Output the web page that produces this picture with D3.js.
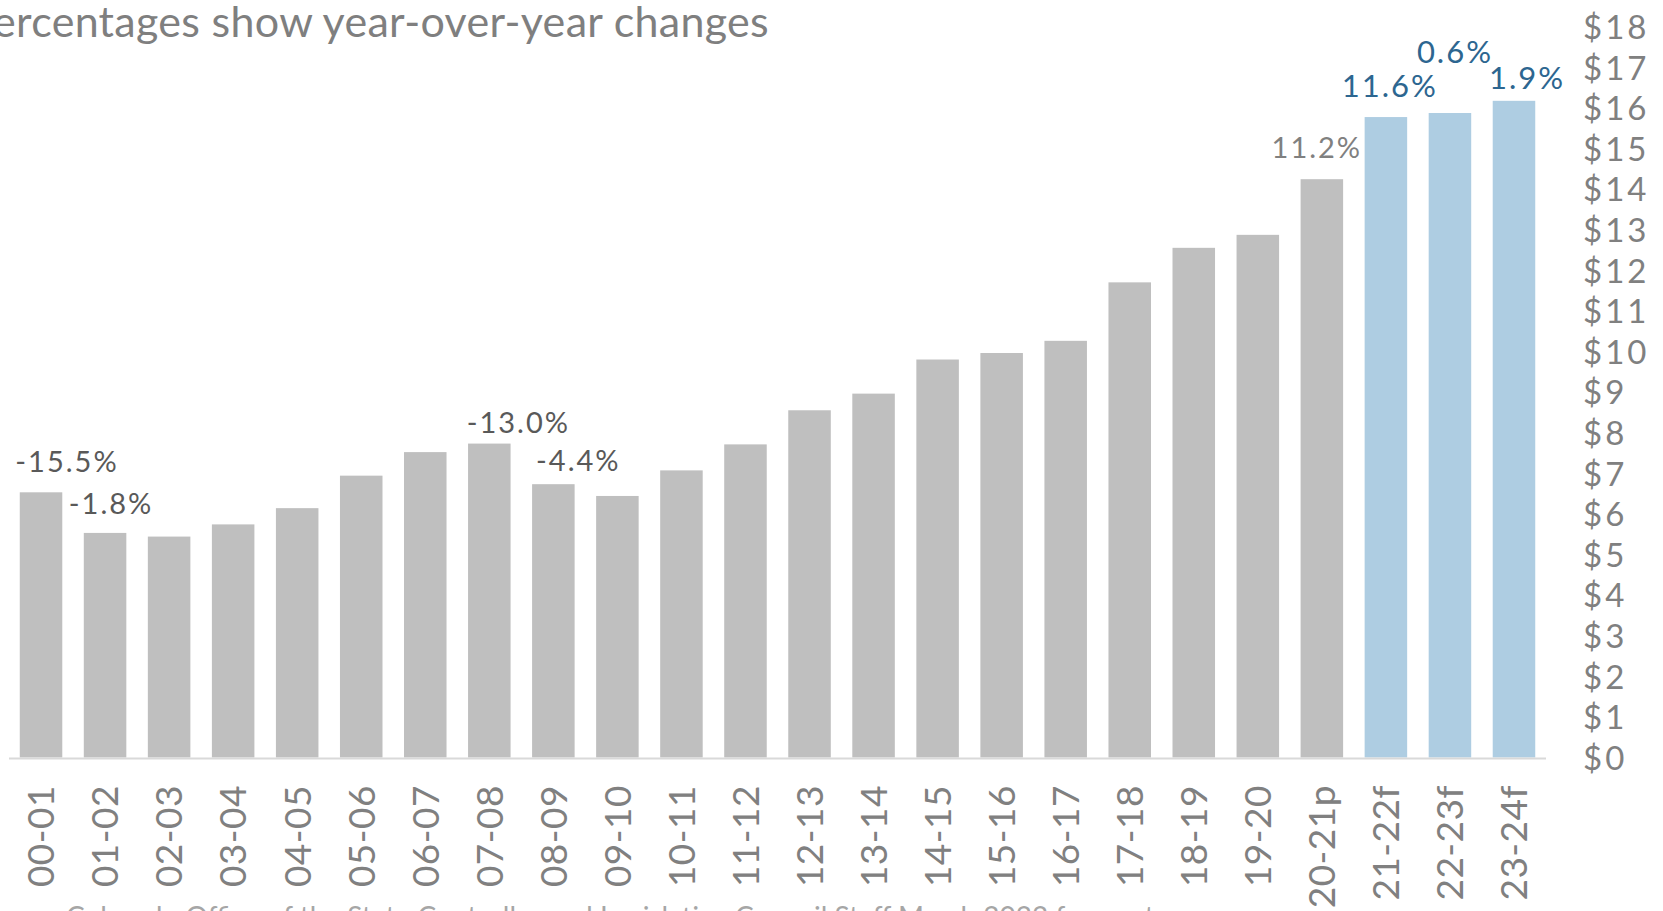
<!DOCTYPE html>
<html>
<head>
<meta charset="utf-8">
<script src="https://cdn.jsdelivr.net/npm/d3@7"></script>
<style>
  body { margin: 0; background: #fff; overflow: hidden; }
  svg { display: block; font-family: "Lato", "Noto Sans", sans-serif; }
</style>
</head>
<body>
<div id="chart"></div>
<script>
// fiscal years, actuals then p = preliminary, f = forecast
var years = ["00-01", "01-02", "02-03", "03-04", "04-05", "05-06", "06-07", "07-08",
    "08-09", "09-10", "10-11", "11-12", "12-13", "13-14", "14-15", "15-16", "16-17",
    "17-18", "18-19", "19-20", "20-21p", "21-22f", "22-23f", "23-24f"];

// revenue, billions of dollars
var revenue = [6.53, 5.53, 5.44, 5.74, 6.14, 6.94, 7.52, 7.73, 6.73, 6.44, 7.07, 7.71,
    8.55, 8.96, 9.80, 9.96, 10.26, 11.70, 12.55, 12.87, 14.24, 15.77, 15.87, 16.17];

var forecastYears = ["21-22f", "22-23f", "23-24f"];

// year-over-year change labels, and the bar each one sits over
var changeYears = ["00-01", "01-02", "07-08", "08-09", "20-21p", "21-22f", "22-23f", "23-24f"];
var changeLabels = ["-15.5%", "-1.8%", "-13.0%", "-4.4%", "11.2%", "11.6%", "0.6%", "1.9%"];

var yTicks = d3.range(0, 19);

var titleText = "Percentages show year-over-year changes";
var sourceText = "Colorado Office of the State Controller and Legislative Council Staff March 2022 forecast";

// hand placed labels, like the dragged ones in the original (dx, gap above bar)
var labelNudge = {
    "00-01": [26, 20], "01-02": [6, 19], "07-08": [29, 11], "08-09": [25, 13],
    "20-21p": [-5, 21], "21-22f": [4, 20], "22-23f": [5, 50], "23-24f": [13, 12]
};

var width = 1663, height = 911;

var svg = d3.select("#chart")
    .append("svg")
    .attr("width", width)
    .attr("height", height);

var x = d3.scaleBand()
    .domain(years)
    .range([9, 1546])
    .paddingInner(0.336)
    .paddingOuter(0.168);

var y = d3.scaleLinear()
    .domain([0, 18])
    .range([757.5, 26.5]);

// title, cut off at the left edge like the reference
svg.append("text")
    .attr("x", 769)
    .attr("y", 37)
    .attr("text-anchor", "end")
    .attr("fill", "#7f7f7f")
    .style("font-size", "43px")
    .style("letter-spacing", "0.3px")
    .text(titleText);

// bars
svg.append("g")
    .selectAll("rect")
    .data(years)
    .join("rect")
    .attr("x", function(d) { return x(d) })
    .attr("width", x.bandwidth())
    .attr("y", function(d, i) { return y(revenue[i]) })
    .attr("height", function(d, i) { return y(0) - y(revenue[i]) })
    .attr("fill", function(d) { return forecastYears.indexOf(d) >= 0 ? "#aecde2" : "#bfbfbf" });

// baseline
svg.append("line")
    .attr("x1", 9)
    .attr("x2", 1546)
    .attr("y1", y(0) + 1)
    .attr("y2", y(0) + 1)
    .attr("stroke", "#d9d9d9")
    .attr("stroke-width", 2);

// change labels
svg.append("g")
    .selectAll("text")
    .data(changeYears)
    .join("text")
    .attr("x", function(d) { return x(d) + x.bandwidth() / 2 + labelNudge[d][0] })
    .attr("y", function(d) { return y(revenue[years.indexOf(d)]) - labelNudge[d][1] })
    .attr("text-anchor", "middle")
    .attr("fill", function(d) {
        if (forecastYears.indexOf(d) >= 0) return "#2d6690";
        return d == "20-21p" ? "#808080" : "#595959";
    })
    .style("font-size", function(d) { return forecastYears.indexOf(d) >= 0 ? "31px" : "29px" })
    .style("letter-spacing", "2px")
    .text(function(d, i) { return changeLabels[i] });

// y axis on the right, no line or ticks
var yAxis = svg.append("g")
    .attr("transform", "translate(1583,0)")
    .call(d3.axisRight(y).tickValues(yTicks).tickSize(0).tickPadding(0)
        .tickFormat(function(d) { return "$" + d }));
yAxis.select(".domain").remove();
yAxis.selectAll("text")
    .attr("fill", "#808080")
    .style("font-family", "Lato, 'Noto Sans', sans-serif")
    .style("font-size", "33px")
    .style("letter-spacing", "3px")
    .attr("dy", "0.36em");

// x axis labels, rotated
var xAxis = svg.append("g")
    .attr("transform", "translate(0,785)")
    .call(d3.axisBottom(x).tickSize(0).tickPadding(0));
xAxis.select(".domain").remove();
xAxis.selectAll("text")
    .attr("transform", "rotate(-90)")
    .attr("text-anchor", "end")
    .attr("x", 0)
    .attr("y", 0)
    .attr("dy", "0.36em")
    .attr("fill", "#808080")
    .style("font-family", "Lato, 'Noto Sans', sans-serif")
    .style("font-size", "37px")
    .style("letter-spacing", "0.5px");

// source line, mostly below the visible area
svg.append("text")
    .attr("x", 66)
    .attr("y", 927)
    .attr("fill", "#a6a6a6")
    .style("font-size", "28px")
    .text(sourceText);
</script>
</body>
</html>
